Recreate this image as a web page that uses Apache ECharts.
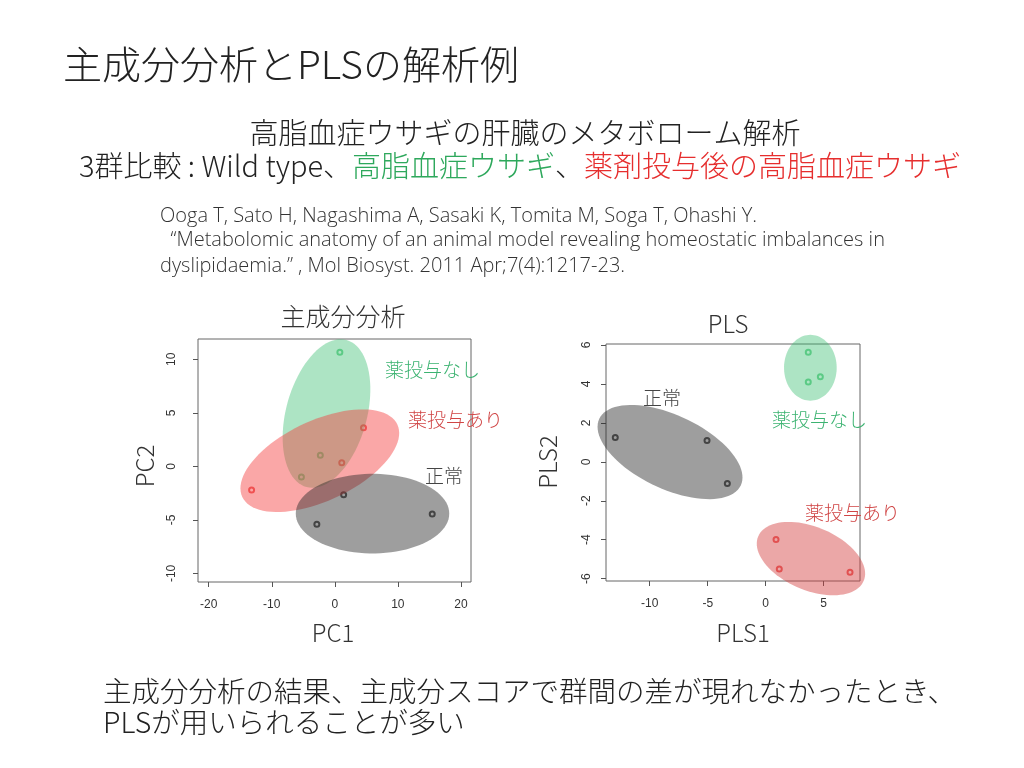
<!DOCTYPE html>
<html>
<head>
<meta charset="utf-8">
<script src="https://cdn.jsdelivr.net/npm/echarts@6/dist/echarts.min.js"></script>
<style>
  html, body { margin: 0; padding: 0; background: #fff; }
  #main { width: 1024px; height: 768px; }
</style>
</head>
<body>
<div id="main"></div>
<script>
// PCA scores [PC1, PC2]
var pcaNormal = [[1.4, -2.65], [-2.85, -5.4], [15.45, -4.45]];
var pcaNoDrug = [[0.8, 10.66], [-2.3, 1.03], [-5.3, -1.0]];
var pcaDrug = [[-13.2, -2.2], [1.1, 0.35], [4.55, 3.6]];
// PLS scores [PLS1, PLS2]
var plsNormal = [[-12.97, 1.25], [-5.06, 1.1], [-3.31, -1.11]];
var plsNoDrug = [[3.67, 5.62], [3.67, 4.1], [4.71, 4.37]];
var plsDrug = [[0.89, -3.99], [1.17, -5.5], [7.27, -5.67]];

// ellipses: [centerX, centerY, axis1X, axis1Y, axis2X, axis2Y] (data units)
var pcaEllNoDrug = [-1.32, 4.94, 3.17, 6.87, 6.19, -0.99];
var pcaEllDrug = [-2.38, 0.53, 12.3, 3.38, 2.68, -3.4];
var pcaEllNormal = [5.98, -4.41, 12.17, 0, 0, 3.72];
var plsEllNoDrug = [3.85, 4.83, 0, 1.69, 2.27, 0];
var plsEllNormal = [-8.25, 0.5, 6.1, -1.71, -1.35, -1.71];
var plsEllDrug = [3.9, -4.97, 4.55, -1.14, -1.06, -1.5];

// tick labels
var pcaXTicks = [-20, -10, 0, 10, 20];
var pcaYTicks = [-10, -5, 0, 5, 10];
var plsXTicks = [-10, -5, 0, 5];
var plsYTicks = [-6, -4, -2, 0, 2, 4, 6];

var JP = '"Noto Sans CJK JP", sans-serif';
var CITE = '"Open Sans", sans-serif';
var GREEN = 'rgba(60,190,115,0.42)';
var RED = 'rgba(245,60,60,0.45)';
var GRAY = 'rgba(40,40,40,0.45)';

function ellipse(e, idx, color) {
  return {
    type: 'custom',
    xAxisIndex: idx,
    yAxisIndex: idx,
    silent: true,
    clip: false,
    z: 3,
    data: [e],
    renderItem: function (params, api) {
      var pts = [];
      for (var i = 0; i < 90; i++) {
        var t = (i / 90) * Math.PI * 2;
        var c = Math.cos(t), s = Math.sin(t);
        pts.push(api.coord([
          api.value(0) + api.value(2) * c + api.value(4) * s,
          api.value(1) + api.value(3) * c + api.value(5) * s
        ]));
      }
      return { type: 'polygon', shape: { points: pts }, style: { fill: color } };
    }
  };
}

function points(d, idx, color) {
  return {
    type: 'scatter',
    xAxisIndex: idx,
    yAxisIndex: idx,
    z: 2,
    symbol: 'emptyCircle',
    symbolSize: 5,
    itemStyle: { color: color, borderWidth: 1.2 },
    data: d
  };
}

function xAxis(idx, min, max, ticks) {
  return {
    gridIndex: idx, type: 'value', min: min, max: max,
    splitLine: { show: false },
    axisLine: { show: false, onZero: false },
    axisTick: { show: true, inside: false, length: 5, lineStyle: { color: '#555' }, customValues: ticks },
    axisLabel: { customValues: ticks, margin: 17, fontSize: 12, color: '#333', fontFamily: 'Liberation Sans' }
  };
}

function yAxis(idx, min, max, ticks, margin) {
  return {
    gridIndex: idx, type: 'value', min: min, max: max,
    splitLine: { show: false },
    axisLine: { show: false, onZero: false },
    axisTick: { show: true, inside: false, length: 5, lineStyle: { color: '#555' }, customValues: ticks },
    axisLabel: { customValues: ticks, rotate: 90, margin: margin, fontSize: 12, color: '#333', fontFamily: 'Liberation Sans' }
  };
}

function txt(x, y, text, size, color, align, rot, font) {
  return {
    type: 'text', x: x, y: y, rotation: rot || 0,
    style: {
      text: text, fontSize: size, fill: color || '#222', fontFamily: font || JP, fontWeight: 300,
      textAlign: align || 'left', textVerticalAlign: 'middle'
    }
  };
}

var chart = echarts.init(document.getElementById('main'));
chart.setOption({
  backgroundColor: '#fff',
  animation: false,
  grid: [
    { left: 198, top: 339, width: 273, height: 243, show: true, borderColor: '#666', borderWidth: 1 },
    { left: 606, top: 344, width: 254, height: 237, show: true, borderColor: '#666', borderWidth: 1 }
  ],
  xAxis: [xAxis(0, -21.7, 21.6, pcaXTicks), xAxis(1, -13.77, 8.13, plsXTicks)],
  yAxis: [yAxis(0, -10.8, 11.9, pcaYTicks, 20), yAxis(1, -6.12, 6.05, plsYTicks, 13)],
  series: [
    points(pcaNoDrug, 0, '#50c878'),
    points(pcaDrug, 0, '#e83c3c'),
    points(pcaNormal, 0, '#333'),
    ellipse(pcaEllNoDrug, 0, GREEN),
    ellipse(pcaEllDrug, 0, RED),
    ellipse(pcaEllNormal, 0, GRAY),
    points(plsNoDrug, 1, '#50c878'),
    points(plsDrug, 1, '#e83c3c'),
    points(plsNormal, 1, '#333'),
    ellipse(plsEllNoDrug, 1, GREEN),
    ellipse(plsEllDrug, 1, 'rgba(210,60,60,0.45)'),
    ellipse(plsEllNormal, 1, GRAY)
  ],
  graphic: [
    txt(63, 64, '主成分分析とPLSの解析例', 39, '#222'),
    txt(525, 133, '高脂血症ウサギの肝臓のメタボローム解析', 29, '#222', 'center'),
    {
      type: 'text', x: 520, y: 166,
      style: {
        text: '{k|3群比較 : Wild type、}{g|高脂血症ウサギ}{k|、}{r|薬剤投与後の高脂血症ウサギ}',
        textAlign: 'center', textVerticalAlign: 'middle',
        fontFamily: JP, fontWeight: 300, fontSize: 29,
        rich: {
          k: { fill: '#222', fontFamily: JP, fontWeight: 300, fontSize: 29 },
          g: { fill: '#2ea85c', fontFamily: JP, fontWeight: 300, fontSize: 29 },
          r: { fill: '#e62e2e', fontFamily: JP, fontWeight: 300, fontSize: 29 }
        }
      }
    },
    txt(160, 216, 'Ooga T, Sato H, Nagashima A, Sasaki K, Tomita M, Soga T, Ohashi Y.', 20, '#333', 'left', 0, CITE),
    txt(160, 240, '  \u201cMetabolomic anatomy of an animal model revealing homeostatic imbalances in', 20, '#333', 'left', 0, CITE),
    txt(160, 266, 'dyslipidaemia.\u201d , Mol Biosyst. 2011 Apr;7(4):1217-23.', 20, '#333', 'left', 0, CITE),
    txt(343, 316, '主成分分析', 25, '#333', 'center'),
    txt(728, 324, 'PLS', 24, '#333', 'center'),
    txt(333, 633, 'PC1', 24, '#333', 'center'),
    txt(743, 633, 'PLS1', 24, '#333', 'center'),
    txt(145, 466, 'PC2', 24, '#333', 'center', Math.PI / 2),
    txt(548, 462, 'PLS2', 24, '#333', 'center', Math.PI / 2),
    txt(385, 370, '薬投与なし', 19, '#3cb371'),
    txt(408, 420, '薬投与あり', 19, '#d04545'),
    txt(425, 476, '正常', 19, '#444'),
    txt(643, 398, '正常', 19, '#444'),
    txt(772, 420, '薬投与なし', 19, '#3cb371'),
    txt(805, 513, '薬投与あり', 19, '#d04545'),
    txt(103, 691, '主成分分析の結果、主成分スコアで群間の差が現れなかったとき、', 28.5, '#222'),
    txt(103, 722, 'PLSが用いられることが多い', 28.5, '#222')
  ]
});
</script>
</body>
</html>
